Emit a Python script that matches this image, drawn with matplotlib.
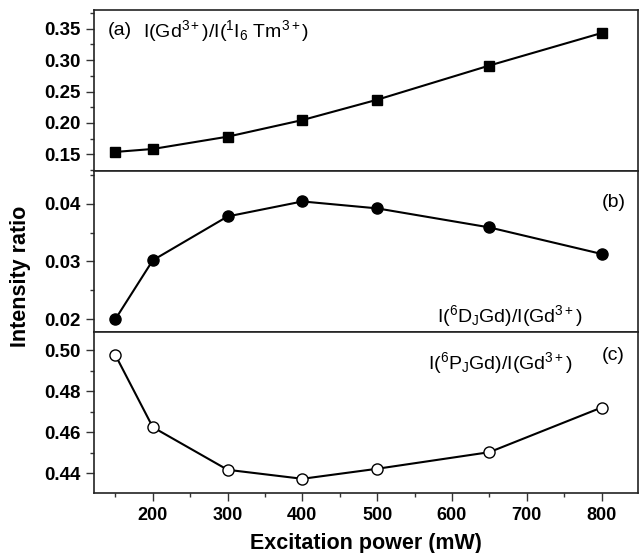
import numpy as np
import matplotlib
matplotlib.use("Agg")
import matplotlib.pyplot as plt
from matplotlib.ticker import MultipleLocator

plt.rcParams['font.family'] = ['Liberation Sans', 'DejaVu Sans']
plt.rcParams['mathtext.fontset'] = 'custom'
plt.rcParams['mathtext.rm'] = 'Liberation Sans'
plt.rcParams['mathtext.it'] = 'Liberation Sans'
plt.rcParams['mathtext.default'] = 'regular'

# excitation power (mW)
power = [150, 200, 300, 400, 500, 650, 800]
# (a) I(Gd3+)/I(1I6 Tm3+)
ratio_a = [0.1537, 0.1584, 0.178, 0.2045, 0.2369, 0.2914, 0.3432]
# (b) I(6DJ Gd)/I(Gd3+)
ratio_b = [0.0200, 0.0302, 0.0378, 0.0404, 0.0392, 0.0359, 0.0313]
# (c) I(6PJ Gd)/I(Gd3+)
ratio_c = [0.4976, 0.4624, 0.4416, 0.4372, 0.4421, 0.4502, 0.4720]

fig, axes = plt.subplots(3, 1, figsize=(6.42, 5.53), dpi=100, sharex=True)
fig.subplots_adjust(left=0.146, right=0.994, top=0.982, bottom=0.109, hspace=0)
ax_a, ax_b, ax_c = axes

ax_a.plot(power, ratio_a, '-', color='black', lw=1.5, marker='s', ms=7.5,
          mfc='black', mec='black')
ax_b.plot(power, ratio_b, '-', color='black', lw=1.5, marker='o', ms=8,
          mfc='black', mec='black')
ax_c.plot(power, ratio_c, '-', color='black', lw=1.5, marker='o', ms=8,
          mfc='white', mec='black', mew=1)

ax_a.set_ylim(0.1235, 0.38)
ax_a.set_yticks([0.15, 0.20, 0.25, 0.30, 0.35])
ax_a.yaxis.set_minor_locator(MultipleLocator(0.025))

ax_b.set_ylim(0.0178, 0.0457)
ax_b.set_yticks([0.02, 0.03, 0.04])
ax_b.yaxis.set_minor_locator(MultipleLocator(0.005))

ax_c.set_ylim(0.4304, 0.509)
ax_c.set_yticks([0.44, 0.46, 0.48, 0.50])
ax_c.yaxis.set_minor_locator(MultipleLocator(0.01))

ax_c.set_xlim(121, 849)
ax_c.set_xticks([200, 300, 400, 500, 600, 700, 800])
ax_c.xaxis.set_minor_locator(MultipleLocator(50))

for ax in axes:
    for s in ax.spines.values():
        s.set_linewidth(1.2)
        s.set_color('#222222')
    ax.tick_params(which='both', direction='out', top=False, right=False,
                   width=1, color='#333333')
    ax.tick_params(which='major', length=5.5, labelsize=13.5, pad=4)
    ax.tick_params(which='minor', length=3)
    for lab in ax.get_yticklabels() + ax.get_xticklabels():
        lab.set_fontweight('bold')
ax_c.tick_params(axis='x', labelsize=13, pad=5)

ax_a.tick_params(labelbottom=False)
ax_b.tick_params(labelbottom=False)

ax_a.text(156, 0.348, '(a)', fontsize=14, ha='center', va='center')
ax_a.text(187, 0.347, r'I(Gd$^{3+}$)/I($^{1}$I$_{6}$ Tm$^{3+}$)', fontsize=14,
          ha='left', va='center')
ax_b.text(816, 0.0402, '(b)', fontsize=14, ha='center', va='center')
ax_b.text(775, 0.0205, r'I($^{6}$D$_{J}$Gd)/I(Gd$^{3+}$)', fontsize=14,
          ha='right', va='center')
ax_c.text(816, 0.4976, '(c)', fontsize=14, ha='center', va='center')
ax_c.text(762, 0.4935, r'I($^{6}$P$_{J}$Gd)/I(Gd$^{3+}$)', fontsize=14,
          ha='right', va='center')

ax_c.set_xlabel('Excitation power (mW)', fontsize=15.5, fontweight='bold', labelpad=6)
fig.text(0.032, 0.5, 'Intensity ratio', rotation=90, fontsize=15.5,
         fontweight='bold', ha='center', va='center')

fig.savefig('out.png', dpi=100)
